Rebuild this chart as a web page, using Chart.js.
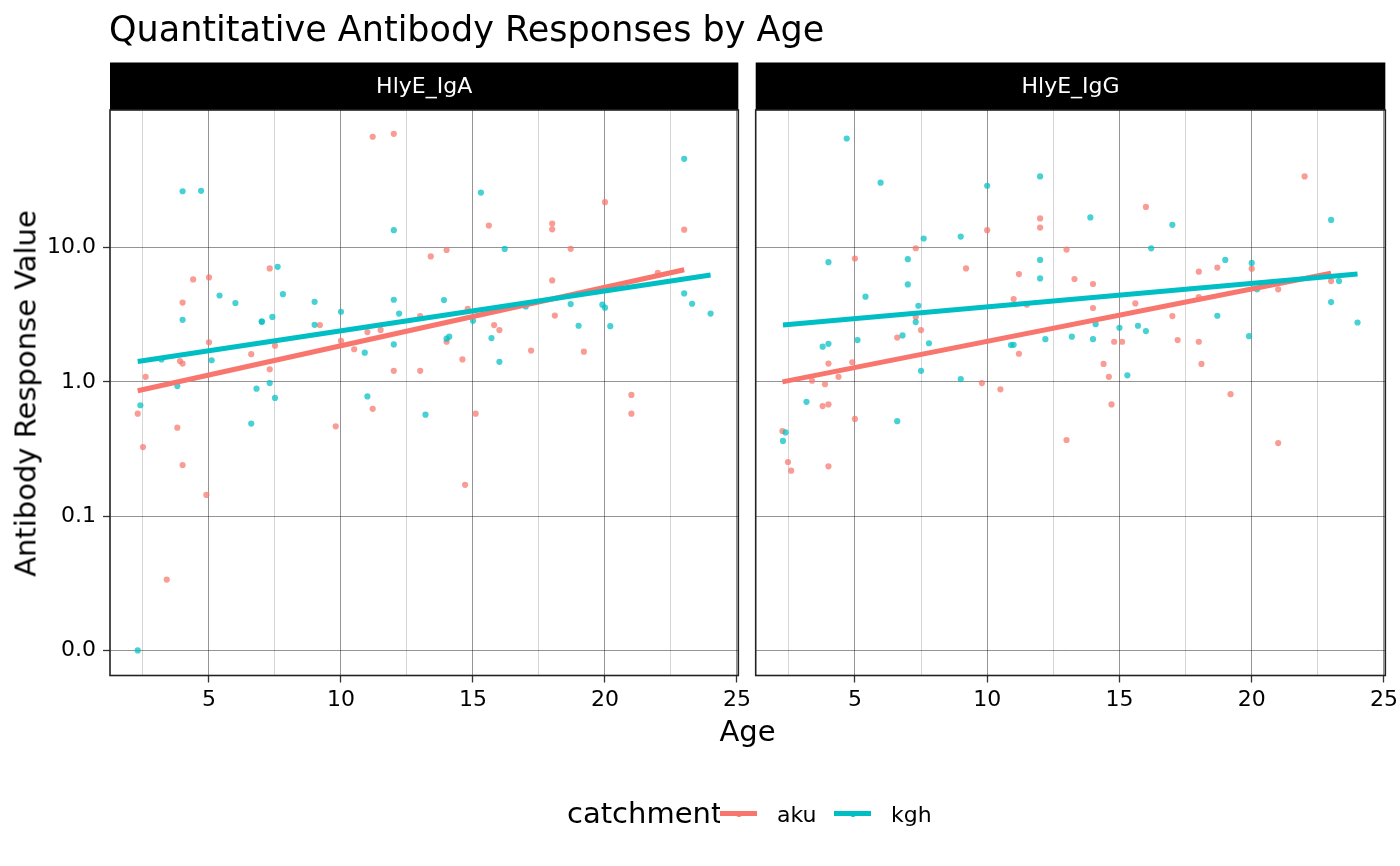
<!DOCTYPE html>
<html>
<head>
<meta charset="utf-8">
<script src="https://cdn.jsdelivr.net/npm/chart.js@4/dist/chart.umd.min.js"></script>
<style>
  html, body { margin: 0; padding: 0; background: #fff; }
  body { width: 1400px; height: 866px; position: relative; overflow: hidden; font-family: "DejaVu Sans", sans-serif; color: #000; }
  canvas { position: absolute; top: 0; }
  #cA { left: 0; }
  #cB { left: 745px; }
  .txt { position: absolute; white-space: nowrap; line-height: 1; }
  #title { left: 109px; top: 12px; font-size: 35px; }
  #ytitle { left: -273.7px; top: 378.5px; width: 600px; text-align: center; font-size: 29px; transform: rotate(-90deg); }
  #xtitle { left: 447.5px; top: 716.5px; width: 600px; text-align: center; font-size: 29px; }
  #legTitle { left: 567px; top: 798.5px; font-size: 29px; }
  .key { position: absolute; top: 795px; width: 37px; height: 37px; background: #fff; }
  .key .ln { position: absolute; left: 0; top: 16px; width: 37px; height: 5px; }
  .key .dt { position: absolute; left: 15.5px; top: 15.5px; width: 6px; height: 6px; border-radius: 50%; }
  .legLab { top: 804px; font-size: 22px; }
</style>
</head>
<body>
<canvas id="cA" width="756" height="866"></canvas>
<canvas id="cB" width="658" height="866"></canvas>
<div class="txt" id="title">Quantitative Antibody Responses by Age</div>
<div class="txt" id="ytitle">Antibody Response Value</div>
<div class="txt" id="xtitle">Age</div>
<div class="txt" id="legTitle">catchment</div>
<div class="key" style="left:720px"><div class="ln" style="background:#F8766D"></div><div class="dt" style="background:#F8766D"></div></div>
<div class="txt legLab" style="left:777px">aku</div>
<div class="key" style="left:834px"><div class="ln" style="background:#00BFC4"></div><div class="dt" style="background:#00BFC4"></div></div>
<div class="txt legLab" style="left:891px">kgh</div>
<script>
// ---------- data ----------
const panels = ['HlyE_IgA', 'HlyE_IgG'];
const catchments = ['aku', 'kgh'];
const xTicks = [2.5, 5, 7.5, 10, 12.5, 15, 17.5, 20, 22.5, 25];
const yTicks = [0.01, 0.1, 1, 10];

// HlyE_IgA, aku
const igaAkuAge = [2.3, 2.5, 2.6, 3.4, 3.8, 3.9, 4.0, 4.0, 4.0, 4.4, 4.9, 5.0, 5.0, 6.6, 7.3, 7.3, 7.5, 9.2, 9.8, 10.0, 10.5, 11.0, 11.2, 11.2, 11.5, 12.0, 12.0, 13.0, 13.0, 13.4, 14.0, 14.0, 14.6, 14.7, 14.8, 15.1, 15.6, 15.8, 16.0, 17.2, 18.0, 18.0, 18.0, 18.1, 18.7, 19.2, 20.0, 21.0, 21.0, 22.0, 23.0];
const igaAkuVal = [0.58, 0.327, 1.09, 0.0337, 0.456, 1.43, 1.37, 3.9, 0.24, 5.8, 0.144, 6.0, 1.97, 1.61, 7.0, 1.24, 1.86, 2.65, 0.467, 2.02, 1.75, 2.35, 67, 0.63, 2.44, 70.5, 1.21, 3.09, 1.21, 8.6, 9.6, 1.99, 1.47, 0.171, 3.5, 0.58, 14.6, 2.65, 2.43, 1.71, 15.1, 13.7, 5.7, 3.12, 9.8, 1.68, 21.8, 0.80, 0.58, 6.5, 13.6];

// HlyE_IgA, kgh
const igaKghAge = [2.3, 2.4, 3.2, 3.8, 4.0, 4.0, 4.7, 5.1, 5.4, 6.0, 6.6, 6.8, 7.0, 7.0, 7.3, 7.4, 7.5, 7.6, 7.8, 9.0, 9.0, 10.0, 10.9, 11.0, 12.0, 12.0, 12.0, 12.2, 13.2, 13.9, 14.0, 14.1, 15.0, 15.3, 15.7, 16.0, 16.2, 17.0, 18.7, 19.0, 19.9, 20.0, 20.2, 23.0, 23.0, 23.3, 24.0];
const igaKghVal = [0.01, 0.67, 1.47, 0.93, 26.3, 2.9, 26.5, 1.45, 4.4, 3.87, 0.489, 0.89, 2.82, 2.80, 0.98, 3.05, 0.76, 7.2, 4.5, 3.95, 2.66, 3.33, 1.65, 0.78, 13.5, 4.09, 1.90, 3.23, 0.57, 4.07, 2.1, 2.17, 2.85, 25.7, 2.12, 1.41, 9.78, 3.65, 3.8, 2.62, 3.76, 3.57, 2.6, 45.9, 4.56, 3.82, 3.23];

// HlyE_IgG, aku
const iggAkuAge = [2.26, 2.47, 2.59, 3.38, 3.78, 3.87, 4.0, 4.0, 4.0, 4.38, 4.9, 5.0, 5.0, 6.6, 7.3, 7.3, 7.5, 9.2, 9.8, 10.0, 10.5, 11.0, 11.2, 11.2, 11.5, 12.0, 12.0, 13.0, 13.0, 13.3, 14.0, 14.0, 14.4, 14.6, 14.7, 14.8, 15.1, 15.6, 16.0, 17.0, 17.2, 18.0, 18.0, 18.0, 18.1, 18.7, 19.2, 20.0, 21.0, 21.0, 22.0, 23.0];
const iggAkuVal = [0.43, 0.253, 0.218, 1.02, 0.66, 0.96, 0.68, 1.37, 0.235, 1.09, 1.40, 8.3, 0.53, 2.14, 9.9, 3.04, 2.43, 7.0, 0.98, 13.5, 0.88, 4.14, 6.36, 1.62, 3.76, 16.5, 14.1, 9.67, 0.369, 5.84, 5.36, 3.55, 1.36, 1.09, 0.68, 1.99, 1.99, 3.84, 20.1, 3.09, 2.05, 6.62, 4.29, 1.99, 1.36, 7.1, 0.81, 6.97, 4.89, 0.35, 33.9, 5.64];

// HlyE_IgG, kgh
const iggKghAge = [2.28, 2.38, 3.17, 3.78, 4.0, 4.0, 4.69, 5.1, 5.4, 5.97, 6.6, 6.8, 7.0, 7.0, 7.3, 7.4, 7.5, 7.6, 7.8, 9.0, 9.0, 10.0, 10.9, 11.0, 12.0, 12.0, 12.0, 12.2, 13.2, 13.9, 14.0, 14.1, 15.0, 15.3, 15.7, 16.0, 16.2, 17.0, 18.7, 19.0, 19.9, 20.0, 20.2, 23.0, 23.0, 23.3, 24.0];
const iggKghVal = [0.363, 0.42, 0.71, 1.83, 1.92, 7.8, 65, 2.05, 4.31, 30.5, 0.51, 2.22, 8.2, 5.32, 2.79, 3.69, 1.21, 11.7, 1.94, 12.1, 1.05, 28.9, 1.88, 1.89, 33.9, 8.1, 5.9, 2.08, 2.17, 16.8, 2.08, 2.69, 2.53, 1.12, 2.62, 2.39, 9.88, 14.8, 3.11, 8.1, 2.19, 7.7, 4.89, 16.1, 3.93, 5.64, 2.77];

// fitted trend lines (end points)
const igaAkuFitAge = [2.3, 23.0];  const igaAkuFitVal = [0.86, 6.85];
const igaKghFitAge = [2.3, 24.0];  const igaKghFitVal = [1.42, 6.26];
const iggAkuFitAge = [2.26, 23.0]; const iggAkuFitVal = [1.0, 6.45];
const iggKghFitAge = [2.28, 24.0]; const iggKghFitVal = [2.65, 6.37];

// ---------- styling ----------
const COL = { aku: '#F8766D', kgh: '#00BFC4' };
const PTCOL = { aku: 'rgba(248,118,109,0.72)', kgh: 'rgba(0,191,196,0.72)' };
const FONT = '"DejaVu Sans", sans-serif';
const X_MIN = 1.25, X_MAX = 25.05, Y_MIN = 0.0065, Y_MAX = 106;

function pts(ages, vals) { return ages.map((a, i) => ({ x: a, y: vals[i] })); }

const facetPlugin = {
  id: 'facet',
  afterDraw(chart, args, opts) {
    const { ctx, chartArea: a } = chart;
    ctx.save();
    // strip
    ctx.fillStyle = '#000';
    ctx.fillRect(a.left, 62.5, a.right - a.left, a.top - 62.5);
    ctx.fillStyle = '#fff';
    ctx.font = '22px ' + FONT;
    ctx.textAlign = 'center';
    ctx.textBaseline = 'middle';
    ctx.fillText(opts.label, (a.left + a.right) / 2, 87);
    // panel border
    ctx.strokeStyle = '#222';
    ctx.lineWidth = 1.6;
    ctx.strokeRect(a.left, a.top, a.right - a.left, a.bottom - a.top);
    ctx.restore();
  }
};

function makeChart(id, label, aku, kgh, akuFit, kghFit, showY, yWidth, padRight) {
  const isMajor = v => Math.abs(v % 5) < 1e-9;
  return new Chart(document.getElementById(id), {
    type: 'scatter',
    data: {
      datasets: [
        { label: 'aku', data: aku, backgroundColor: PTCOL.aku, borderWidth: 0, pointRadius: 3.1, pointHoverRadius: 3.1, order: 4 },
        { label: 'kgh', data: kgh, backgroundColor: PTCOL.kgh, borderWidth: 0, pointRadius: 3.1, pointHoverRadius: 3.1, order: 3 },
        { type: 'line', label: 'aku fit', data: akuFit, borderColor: COL.aku, borderWidth: 5, pointRadius: 0, fill: false, order: 2 },
        { type: 'line', label: 'kgh fit', data: kghFit, borderColor: COL.kgh, borderWidth: 5, pointRadius: 0, fill: false, order: 1 }
      ]
    },
    options: {
      responsive: false,
      animation: false,
      events: [],
      layout: { padding: { left: 0, right: padRight, top: 110, bottom: 140.5 } },
      plugins: { legend: { display: false }, title: { display: false }, tooltip: { enabled: false }, facet: { label } },
      scales: {
        x: {
          type: 'linear', min: X_MIN, max: X_MAX,
          afterBuildTicks: s => { s.ticks = xTicks.map(v => ({ value: v })); },
          afterFit: s => { s.height = 50; },
          border: { display: false },
          grid: {
            color: c => (c.tick && isMajor(c.tick.value)) ? 'rgba(0,0,0,0.42)' : 'rgba(0,0,0,0.16)',
            lineWidth: 1,
            tickLength: 7,
            tickWidth: 1.3,
            tickColor: c => (c.tick && isMajor(c.tick.value)) ? '#333' : 'rgba(0,0,0,0)'
          },
          ticks: {
            autoSkip: false, maxRotation: 0, padding: 5, color: '#000',
            font: { family: FONT, size: 22 },
            callback: v => isMajor(v) ? String(v) : ''
          }
        },
        y: {
          type: 'logarithmic', min: Y_MIN, max: Y_MAX,
          afterBuildTicks: s => { s.ticks = yTicks.map(v => ({ value: v })); },
          afterFit: s => { s.width = yWidth; },
          border: { display: false },
          grid: {
            color: 'rgba(0,0,0,0.42)', lineWidth: 1,
            drawTicks: showY, tickLength: 7, tickWidth: 1.3, tickColor: '#333'
          },
          ticks: {
            display: showY, autoSkip: false, padding: 7, color: '#000',
            font: { family: FONT, size: 22 },
            callback: v => Number(v).toFixed(1)
          }
        }
      }
    },
    plugins: [facetPlugin]
  });
}

makeChart('cA', panels[0],
  pts(igaAkuAge, igaAkuVal), pts(igaKghAge, igaKghVal),
  pts(igaAkuFitAge, igaAkuFitVal), pts(igaKghFitAge, igaKghFitVal),
  true, 110, 0);
makeChart('cB', panels[1],
  pts(iggAkuAge, iggAkuVal), pts(iggKghAge, iggKghVal),
  pts(iggAkuFitAge, iggAkuFitVal), pts(iggKghFitAge, iggKghFitVal),
  false, 10.7, 0);
</script>
</body>
</html>
